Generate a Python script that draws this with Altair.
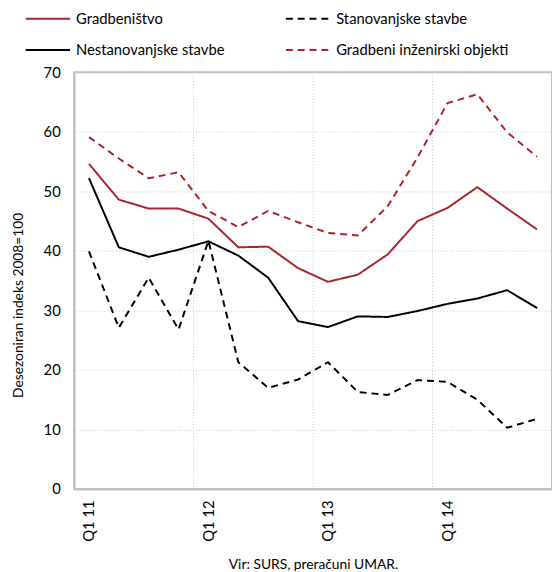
import altair as alt
import pandas as pd

quarters = ["Q1 11", "Q2 11", "Q3 11", "Q4 11",
            "Q1 12", "Q2 12", "Q3 12", "Q4 12",
            "Q1 13", "Q2 13", "Q3 13", "Q4 13",
            "Q1 14", "Q2 14", "Q3 14", "Q4 14"]

# legend is filled column by column
series_names = ["Gradbeništvo", "Nestanovanjske stavbe",
                "Stanovanjske stavbe", "Gradbeni inženirski objekti"]

gradbenistvo = [54.6, 48.6, 47.1, 47.1, 45.4, 40.6, 40.7, 37.1,
                34.8, 36.0, 39.4, 45.0, 47.2, 50.7, 47.1, 43.6]
nestanovanjske = [52.2, 40.6, 39.0, 40.2, 41.6, 39.2, 35.5, 28.2,
                  27.2, 29.0, 28.9, 29.9, 31.1, 32.0, 33.4, 30.4]
stanovanjske = [39.9, 27.1, 35.5, 26.8, 41.7, 21.3, 17.0, 18.4,
                21.3, 16.3, 15.8, 18.3, 18.0, 15.0, 10.3, 11.8]
inzenirski = [59.1, 55.5, 52.2, 53.2, 46.7, 44.0, 46.7, 44.8,
              43.0, 42.6, 47.5, 55.7, 64.8, 66.3, 59.9, 55.8]

colors = ["#a8262b", "#000000", "#000000", "#a8262b"]
dashes = [[1, 0], [1, 0], [7, 5], [7, 5]]

rows = []
for name, vals in zip(series_names, [gradbenistvo, nestanovanjske, stanovanjske, inzenirski]):
    for i, v in enumerate(vals):
        rows.append({"i": i, "q": quarters[i], "serija": name, "v": v})
df = pd.DataFrame(rows)

year_starts = [i for i, q in enumerate(quarters) if q.startswith("Q1")]
bounds = pd.DataFrame({"b": [i - 0.5 for i in year_starts if i > 0]})

label_js = "[" + ",".join("'" + q + "'" for q in quarters) + "][datum.value]"

FONT = "Lato"
xscale = alt.Scale(domain=[-0.5, len(quarters) - 0.5], nice=False, zero=False)

lines = alt.Chart(df).mark_line(strokeWidth=2).encode(
    x=alt.X("i:Q", scale=xscale,
            axis=alt.Axis(values=year_starts, labelExpr=label_js, grid=False,
                          ticks=False, labelAngle=270, labelAlign="right",
                          labelBaseline="middle", labelPadding=11,
                          labelFontSize=15, labelColor="#000", labelFont=FONT,
                          domainColor="#c0c0c0", domainWidth=2,
                          title="Vir: SURS, preračuni UMAR.",
                          titleFont=FONT, titleFontSize=14, titleFontWeight="normal",
                          titleColor="#000", titlePadding=17)),
    y=alt.Y("v:Q", scale=alt.Scale(domain=[0, 70], nice=False),
            axis=alt.Axis(values=[0, 10, 20, 30, 40, 50, 60, 70], grid=True,
                          gridColor="#c8c8c8", gridDash=[1, 2], gridWidth=1,
                          ticks=False, labelPadding=14, labelFontSize=15,
                          labelColor="#000", labelFont=FONT,
                          domainColor="#c0c0c0", domainWidth=2,
                          title="Desezoniran indeks 2008=100",
                          titleFont=FONT, titleFontSize=14, titleFontWeight="normal",
                          titleColor="#000", titlePadding=18, titleY=236)),
    color=alt.Color("serija:N", sort=series_names,
                    scale=alt.Scale(domain=series_names, range=colors),
                    legend=alt.Legend(title=None, orient="none", columns=2,
                                      legendX=-50, legendY=-78,
                                      symbolType="stroke", symbolSize=2025,
                                      symbolStrokeWidth=2, labelFontSize=15,
                                      labelFont=FONT, labelColor="#000",
                                      columnPadding=58, rowPadding=-5,
                                      labelOffset=5, labelLimit=400)),
    strokeDash=alt.StrokeDash("serija:N", sort=series_names,
                              scale=alt.Scale(domain=series_names, range=dashes)),
)

grid_v = alt.Chart(bounds).mark_rule(color="#c8c8c8", strokeDash=[1, 2], strokeWidth=1).encode(
    x=alt.X("b:Q", scale=xscale)
)

chart = alt.layer(grid_v, lines).properties(
    width=485, height=423,
    autosize=alt.AutoSizeParams(type="none"),
    padding={"left": 67, "top": 61, "right": 0, "bottom": 80},
).configure_view(stroke="#c0c0c0", strokeWidth=2)

chart.save("out.html", embed_options={"renderer": "svg", "actions": False})
